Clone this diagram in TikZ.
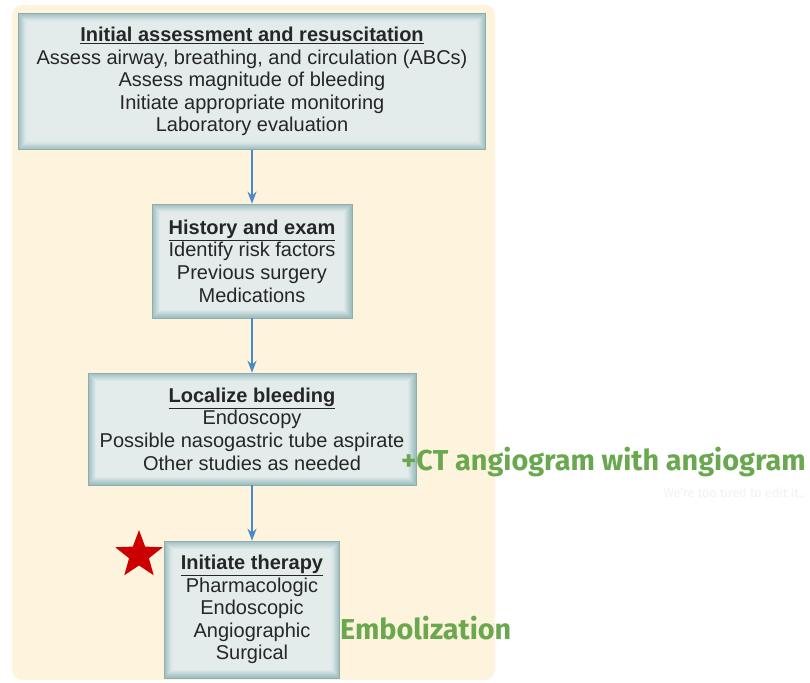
\documentclass[tikz,border=0pt]{standalone}
\usepackage{fontspec}
\setmainfont{Liberation Sans}
\newfontfamily\notefont{Fira Sans}
\usetikzlibrary{arrows.meta,shapes.geometric}
\definecolor{cream}{HTML}{FEF3DC}
\definecolor{boxfill}{HTML}{E3EBEB}
\definecolor{boxedge}{HTML}{9FC0C1}
\definecolor{flowblue}{HTML}{4A8AC8}
\definecolor{notegreen}{HTML}{6AA84F}
\definecolor{starred}{HTML}{CC0000}
\begin{document}
\begin{tikzpicture}[x=1pt,y=-1pt]
\tikzstyle{stepbox} = [rectangle, fill=boxfill, draw=boxedge!90!black, line width=0.6pt, align=center,
  font=\fontsize{20}{22.6}\selectfont, text=black!85, inner sep=0pt,
  path picture={
    \foreach \d/\m in {1/100,2/90,3/78,4/64,5/50,6/36,7/22,8/10}{
      \draw[boxedge!\m!boxfill, line width=1.05pt]
        ([xshift=\d pt-0.5pt, yshift=-\d pt+0.5pt]path picture bounding box.north west) rectangle
        ([xshift=-\d pt+0.5pt, yshift=\d pt-0.5pt]path picture bounding box.south east);}}]
\tikzstyle{flow} = [draw=flowblue, line width=2pt, -{Stealth[length=12pt,width=9pt]}]
\tikzstyle{note} = [font=\notefont\bfseries\fontsize{28.8}{32}\selectfont, text=notegreen, inner sep=0pt]
\useasboundingbox (0,0) rectangle (810,682);
\fill[white] (0,0) rectangle (810,682);
\fill[cream, rounded corners=10pt] (12,5) rectangle (495,680);
% steps
\node[stepbox, minimum width=467, minimum height=136] (assess) at (252,81.5)
  {\textbf{\underline{Initial assessment and resuscitation}}\\
   Assess airway, breathing, and circulation (ABCs)\\
   Assess magnitude of bleeding\\
   Initiate appropriate monitoring\\
   Laboratory evaluation};
\node[stepbox, minimum width=200, minimum height=114] (history) at (252,261)
  {\textbf{\underline{History and exam}}\\
   Identify risk factors\\
   Previous surgery\\
   Medications};
\node[stepbox, minimum width=328, minimum height=112] (localize) at (252,429)
  {\textbf{\underline{Localize bleeding}}\\
   Endoscopy\\
   Possible nasogastric tube aspirate\\
   Other studies as needed};
\node[stepbox, minimum width=175, minimum height=137] (therapy) at (252,609.5)
  {\textbf{\underline{Initiate therapy}}\\
   Pharmacologic\\
   Endoscopic\\
   Angiographic\\
   Surgical};
% arrows
\draw[flow] (assess.south) -- (history.north);
\draw[flow] (history.south) -- (localize.north);
\draw[flow] (localize.south) -- (therapy.north);
% notes
\node[star, star points=5, star point ratio=2.4, minimum size=50pt, fill=starred, inner sep=0pt] (mark) at (139,555) {};
\node[note, anchor=west] (ctnote) at (401,462) {+CT angiogram with angiogram};
\node[note, anchor=west] (embnote) at (340,628) {Embolization};
\node[font=\notefont\fontsize{12.5}{14}\selectfont, text=black!5, anchor=east, inner sep=0pt] (tired) at (805,493) {We’re too tired to edit it..};
\end{tikzpicture}
\end{document}
